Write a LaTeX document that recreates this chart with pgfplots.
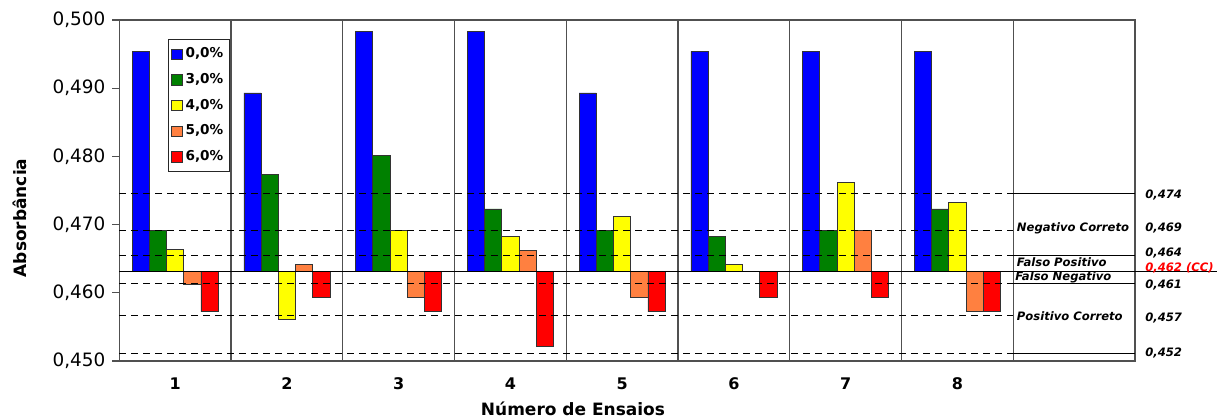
\documentclass[border=0pt]{standalone}
\usepackage{pgfplots}
\pgfplotsset{compat=1.18}
\usepackage{pgfplotstable}
\usepackage{fontspec}
\setmainfont{DejaVu Sans}
\definecolor{cblue}{RGB}{0,0,255}
\definecolor{cgreen}{RGB}{0,128,0}
\definecolor{cyellow}{RGB}{255,255,0}
\definecolor{corange}{RGB}{255,128,64}
\definecolor{cred}{RGB}{255,0,0}
\definecolor{gridc}{RGB}{80,80,80}

\pgfplotstableread{
x c0 c3 c4 c5 c6
1 0.4954 0.4692 0.4663 0.4613 0.4572
2 0.4893 0.4773 0.4561 0.4642 0.4593
3 0.4983 0.4802 0.4692 0.4593 0.4572
4 0.4983 0.4723 0.4682 0.4662 0.4521
5 0.4893 0.4692 0.4712 0.4593 0.4572
6 0.4954 0.4682 0.4642 nan 0.4593
7 0.4954 0.4692 0.4762 0.4692 0.4593
8 0.4954 0.4723 0.4733 0.4572 0.4572
}\data

\begin{document}
\begin{tikzpicture}[x=1pt,y=1pt]
\useasboundingbox (-59.65,-28.5) rectangle (548.85,180.5);
\begin{axis}[
  at={(0,0)}, anchor=south west,
  scale only axis, width=507.85pt, height=170.5pt,
  xmin=0.5, xmax=9.589, ymin=-13.1, ymax=36.9,
  ybar=0pt, bar width=8.6pt,
  clip=false,
  axis line style={draw=gridc, line width=0.6pt},
  xtick={1,2,3,4,5,6,7,8},
  xticklabels={1,2,3,4,5,6,7,8},
  xticklabel style={font=\bfseries\fontsize{8}{9}\selectfont, yshift=-1.5pt},
  minor xtick={1.5,2.5,3.5,4.5,5.5,6.5,7.5,8.5},
  xminorgrids,
  minor grid style={solid, draw=gridc, line width=0.6pt},
  minor tick length=0pt,
  xtick style={draw=none},
  ytick={-13.1,-3.1,6.9,16.9,26.9,36.9},
  yticklabels={{0,450},{0,460},{0,470},{0,480},{0,490},{0,500}},
  yticklabel style={font=\fontsize{9.2}{10}\selectfont},
  ytick pos=left,
  ytick style={draw=gridc, line width=0.6pt},
  tick align=outside,
  major tick length=3.5pt,
  /pgf/number format/assume math mode=true,
  legend style={at={(0.0477,0.944)}, anchor=north west, draw=black!85, line width=0.6pt,
    font=\bfseries\fontsize{6.8}{8}\selectfont, row sep=2.3pt, inner xsep=1.5pt, inner ysep=2pt,
    nodes={inner xsep=1.5pt},
    legend cell align=left},
  legend image code/.code={\draw[#1,draw=black!80,line width=0.4pt] (0pt,-2.6pt) rectangle (5.2pt,2.6pt);},
]
\addplot[fill=cblue, draw=black!80, line width=0.4pt] table[x=x, y expr=(\thisrow{c0}-0.4631)*1000] {\data};
\addlegendentry{0,0\%}
\addplot[fill=cgreen, draw=black!80, line width=0.4pt] table[x=x, y expr=(\thisrow{c3}-0.4631)*1000] {\data};
\addlegendentry{3,0\%}
\addplot[fill=cyellow, draw=black!80, line width=0.4pt] table[x=x, y expr=(\thisrow{c4}-0.4631)*1000] {\data};
\addlegendentry{4,0\%}
\addplot[fill=corange, draw=black!80, line width=0.4pt] table[x=x, y expr=(\thisrow{c5}-0.4631)*1000] {\data};
\addlegendentry{5,0\%}
\addplot[fill=cred, draw=black!80, line width=0.4pt] table[x=x, y expr=(\thisrow{c6}-0.4631)*1000] {\data};
\addlegendentry{6,0\%}

% dashed limit lines
\foreach \yy in {11.4,6.0,2.4,-1.7,-6.5,-12.0} {
  \edef\tmp{\noexpand\draw[black, line width=0.5pt, dash pattern=on 3.5pt off 2.5pt] (axis cs:0.5,\yy) -- (axis cs:8.5,\yy);}
  \tmp
}
% panel lines
\foreach \yy in {11.4,2.4,-1.7,-12.0} {
  \edef\tmp{\noexpand\draw[black, line width=0.5pt] (axis cs:8.5,\yy) -- (axis cs:9.589,\yy);}
  \tmp
}
% baseline (CC)
\draw[black, line width=0.6pt] (axis cs:0.5,0) -- (axis cs:10.4,0);

% panel labels
\begin{scope}[font=\bfseries\itshape\fontsize{5.8}{6}\selectfont, inner sep=0pt]
\node[anchor=west] at (axis cs:8.529,6.4) {Negativo Correto};
\node[anchor=west] at (axis cs:8.529,1.37) {Falso Positivo};
\node[anchor=west] at (axis cs:8.515,-0.89) {Falso Negativo};
\node[anchor=west] at (axis cs:8.529,-6.5) {Positivo Correto};
\node[anchor=west] at (axis cs:9.678,11.24) {0,474};
\node[anchor=west] at (axis cs:9.678,6.4) {0,469};
\node[anchor=west] at (axis cs:9.678,2.78) {0,464};
\node[anchor=west, text=cred] at (axis cs:9.678,0.54) {0,462 (CC)};
\node[anchor=west] at (axis cs:9.678,-1.96) {0,461};
\node[anchor=west] at (axis cs:9.678,-6.8) {0,457};
\node[anchor=west] at (axis cs:9.678,-11.93) {0,452};
\end{scope}
\end{axis}
\node[rotate=90, font=\bfseries\fontsize{8.5}{10}\selectfont] at (-49.5,71.5) {Absorbância};
\node[font=\bfseries\fontsize{8.5}{10}\selectfont] at (226.85,-24) {Número de Ensaios};
\end{tikzpicture}
\end{document}
